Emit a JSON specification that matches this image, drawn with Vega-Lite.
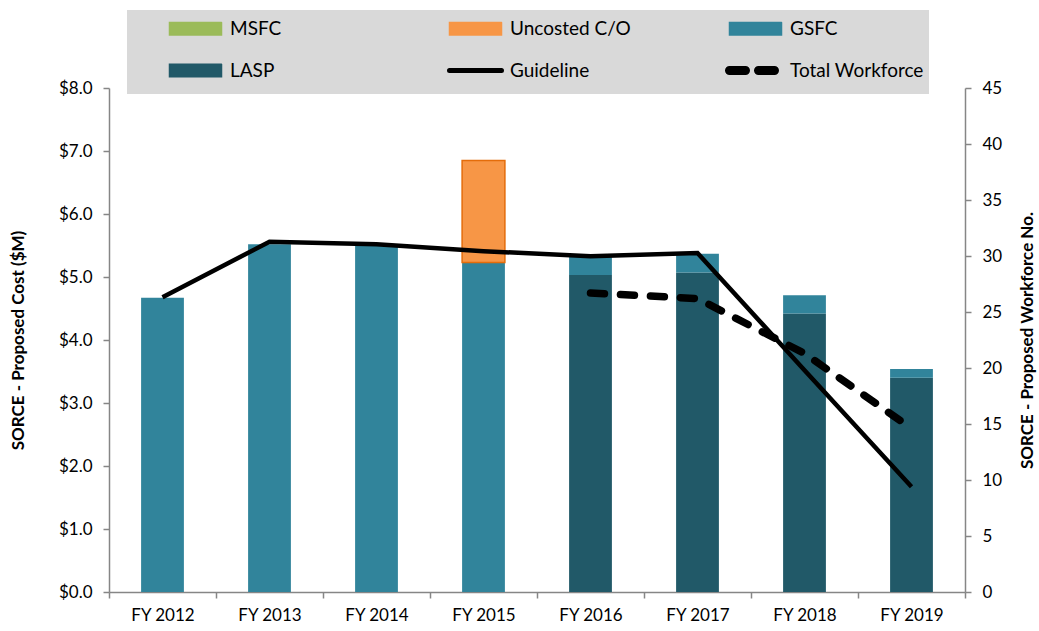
{
  "$schema": "https://vega.github.io/schema/vega-lite/v6.json",
  "width": 856,
  "height": 504,
  "autosize": {"type": "none"},
  "padding": {"left": 109, "top": 88, "right": 74, "bottom": 39},
  "background": "white",
  "config": {
    "font": "Lato",
    "view": {"stroke": null},
    "axis": {
      "grid": false,
      "domainColor": "#868686",
      "tickColor": "#868686",
      "domainWidth": 1.5,
      "tickWidth": 1.5,
      "tickSize": 6,
      "labelFont": "Lato",
      "labelFontSize": 17,
      "labelColor": "#000000",
      "titleFont": "Lato",
      "titleFontSize": 17,
      "titleFontWeight": "bold",
      "titleColor": "#000000"
    }
  },
  "datasets": {
    "bars": [
      {"year": "FY 2012", "series": "GSFC", "value": 4.67, "ord": 2},
      {"year": "FY 2013", "series": "GSFC", "value": 5.52, "ord": 2},
      {"year": "FY 2014", "series": "GSFC", "value": 5.51, "ord": 2},
      {"year": "FY 2015", "series": "GSFC", "value": 5.23, "ord": 2},
      {"year": "FY 2015", "series": "Uncosted C/O", "value": 1.62, "ord": 3},
      {"year": "FY 2016", "series": "LASP", "value": 5.03, "ord": 1},
      {"year": "FY 2016", "series": "GSFC", "value": 0.30, "ord": 2},
      {"year": "FY 2017", "series": "LASP", "value": 5.07, "ord": 1},
      {"year": "FY 2017", "series": "GSFC", "value": 0.30, "ord": 2},
      {"year": "FY 2018", "series": "LASP", "value": 4.42, "ord": 1},
      {"year": "FY 2018", "series": "GSFC", "value": 0.29, "ord": 2},
      {"year": "FY 2019", "series": "LASP", "value": 3.40, "ord": 1},
      {"year": "FY 2019", "series": "GSFC", "value": 0.14, "ord": 2}
    ],
    "guide": [
      {"year": "FY 2012", "series": "Guideline", "value": 4.68},
      {"year": "FY 2013", "series": "Guideline", "value": 5.56},
      {"year": "FY 2014", "series": "Guideline", "value": 5.52},
      {"year": "FY 2015", "series": "Guideline", "value": 5.41},
      {"year": "FY 2016", "series": "Guideline", "value": 5.33},
      {"year": "FY 2017", "series": "Guideline", "value": 5.38},
      {"year": "FY 2018", "series": "Guideline", "value": 3.52},
      {"year": "FY 2019", "series": "Guideline", "value": 1.67}
    ],
    "work": [
      {"year": "FY 2016", "series": "Total Workforce", "value": 26.7},
      {"year": "FY 2017", "series": "Total Workforce", "value": 26.2},
      {"year": "FY 2018", "series": "Total Workforce", "value": 21.3},
      {"year": "FY 2019", "series": "Total Workforce", "value": 14.6}
    ]
  },
  "layer": [
    {
      "layer": [
        {
          "data": {"name": "bars"},
          "mark": {"type": "bar", "width": {"band": 0.4}, "strokeWidth": 1.5},
          "encoding": {
            "x": {
              "field": "year",
              "type": "nominal",
              "scale": {"paddingInner": 0, "paddingOuter": 0},
              "axis": {
                "title": null,
                "labelAngle": 0,
                "tickBand": "extent",
                "labelPadding": 9
              }
            },
            "y": {
              "field": "value",
              "type": "quantitative",
              "stack": "zero",
              "scale": {"domain": [0, 8], "nice": false},
              "axis": {
                "orient": "left",
                "values": [0, 1, 2, 3, 4, 5, 6, 7, 8],
                "format": "$.1f",
                "title": "SORCE - Proposed Cost ($M)",
                "labelPadding": 11,
                "titleX": -91,
                "titleBaseline": "middle"
              }
            },
            "color": {
              "field": "series",
              "type": "nominal",
              "scale": {
                "domain": ["MSFC", "Uncosted C/O", "GSFC", "LASP", "Guideline", "Total Workforce"],
                "range": ["#9BBB59", "#F79646", "#31849B", "#215968", "#000000", "#000000"]
              },
              "legend": {
                "title": null,
                "orient": "none",
                "legendX": 18,
                "legendY": -78,
                "direction": "horizontal",
                "columns": 3,
                "gridAlign": "all",
                "columnPadding": 48,
                "rowPadding": 9,
                "padding": 5,
                "fillColor": "#d9d9d9",
                "symbolOffset": 54,
                "symbolSize": 2704,
                "labelFont": "Lato",
                "labelFontSize": 19,
                "labelColor": "#000000",
                "labelOffset": 25,
                "labelLimit": 400,
                "encode": {
                  "symbols": {
                    "update": {
                      "shape": {"signal": "datum.value === 'Guideline' || datum.value === 'Total Workforce' ? 'stroke' : 'M-1,-0.24H1V0.24H-1Z'"},
                      "size": {"value": 2704},
                      "fill": {"signal": "datum.value === 'Guideline' || datum.value === 'Total Workforce' ? 'transparent' : scale('color', datum.value)"},
                      "stroke": {"signal": "datum.value === 'Uncosted C/O' ? '#E46C0A' : (datum.value === 'Guideline' || datum.value === 'Total Workforce') ? '#000000' : 'transparent'"},
                      "strokeWidth": {"signal": "datum.value === 'Guideline' ? 5 : datum.value === 'Total Workforce' ? 9 : 1.5"},
                      "strokeDash": {"signal": "datum.value === 'Total Workforce' ? [16, 13] : [1, 0]"},
                      "strokeCap": {"value": "round"},
                      "opacity": {"value": 1}
                    }
                  }
                }
              }
            },
            "order": {"field": "ord", "type": "quantitative"},
            "stroke": {
              "condition": {"test": "datum.series === 'Uncosted C/O'", "value": "#E46C0A"},
              "value": null
            }
          }
        },
        {
          "data": {"name": "guide"},
          "mark": {"type": "line", "strokeWidth": 4.5, "strokeJoin": "miter"},
          "encoding": {
            "x": {"field": "year", "type": "nominal"},
            "y": {"field": "value", "type": "quantitative"},
            "color": {
              "field": "series",
              "type": "nominal",
              "legend": {
                "title": null,
                "orient": "none",
                "legendX": 18,
                "legendY": -78,
                "direction": "horizontal",
                "columns": 3,
                "gridAlign": "all",
                "columnPadding": 48,
                "rowPadding": 9,
                "padding": 5,
                "fillColor": "#d9d9d9",
                "symbolOffset": 54,
                "symbolSize": 2704,
                "labelFont": "Lato",
                "labelFontSize": 19,
                "labelColor": "#000000",
                "labelOffset": 25,
                "labelLimit": 400,
                "encode": {
                  "symbols": {
                    "update": {
                      "shape": {"signal": "datum.value === 'Guideline' || datum.value === 'Total Workforce' ? 'stroke' : 'M-1,-0.24H1V0.24H-1Z'"},
                      "size": {"value": 2704},
                      "fill": {"signal": "datum.value === 'Guideline' || datum.value === 'Total Workforce' ? 'transparent' : scale('color', datum.value)"},
                      "stroke": {"signal": "datum.value === 'Uncosted C/O' ? '#E46C0A' : (datum.value === 'Guideline' || datum.value === 'Total Workforce') ? '#000000' : 'transparent'"},
                      "strokeWidth": {"signal": "datum.value === 'Guideline' ? 5 : datum.value === 'Total Workforce' ? 9 : 1.5"},
                      "strokeDash": {"signal": "datum.value === 'Total Workforce' ? [16, 13] : [1, 0]"},
                      "strokeCap": {"value": "round"},
                      "opacity": {"value": 1}
                    }
                  }
                }
              }
            }
          }
        }
      ]
    },
    {
      "data": {"name": "work"},
      "mark": {"type": "line", "strokeWidth": 7.5, "strokeDash": [14, 16], "strokeCap": "round"},
      "encoding": {
        "x": {"field": "year", "type": "nominal"},
        "y": {
          "field": "value",
          "type": "quantitative",
          "scale": {"domain": [0, 45], "nice": false},
          "axis": {
            "orient": "right",
            "values": [0, 5, 10, 15, 20, 25, 30, 35, 40, 45],
            "title": "SORCE - Proposed Workforce No.",
            "titleAngle": 270,
            "labelPadding": 11,
            "titleX": 62,
            "titleBaseline": "middle"
          }
        },
        "color": {
          "field": "series",
          "type": "nominal",
          "legend": {
            "title": null,
            "orient": "none",
            "legendX": 18,
            "legendY": -78,
            "direction": "horizontal",
            "columns": 3,
            "gridAlign": "all",
            "columnPadding": 48,
            "rowPadding": 9,
            "padding": 5,
            "fillColor": "#d9d9d9",
            "symbolOffset": 54,
            "symbolSize": 2704,
            "labelFont": "Lato",
            "labelFontSize": 19,
            "labelColor": "#000000",
            "labelOffset": 25,
            "labelLimit": 400,
            "encode": {
              "symbols": {
                "update": {
                  "shape": {"signal": "datum.value === 'Guideline' || datum.value === 'Total Workforce' ? 'stroke' : 'M-1,-0.24H1V0.24H-1Z'"},
                  "size": {"value": 2704},
                  "fill": {"signal": "datum.value === 'Guideline' || datum.value === 'Total Workforce' ? 'transparent' : scale('color', datum.value)"},
                  "stroke": {"signal": "datum.value === 'Uncosted C/O' ? '#E46C0A' : (datum.value === 'Guideline' || datum.value === 'Total Workforce') ? '#000000' : 'transparent'"},
                  "strokeWidth": {"signal": "datum.value === 'Guideline' ? 5 : datum.value === 'Total Workforce' ? 9 : 1.5"},
                  "strokeDash": {"signal": "datum.value === 'Total Workforce' ? [16, 13] : [1, 0]"},
                  "strokeCap": {"value": "round"},
                  "opacity": {"value": 1}
                }
              }
            }
          }
        }
      }
    }
  ],
  "resolve": {"scale": {"y": "independent"}}
}
